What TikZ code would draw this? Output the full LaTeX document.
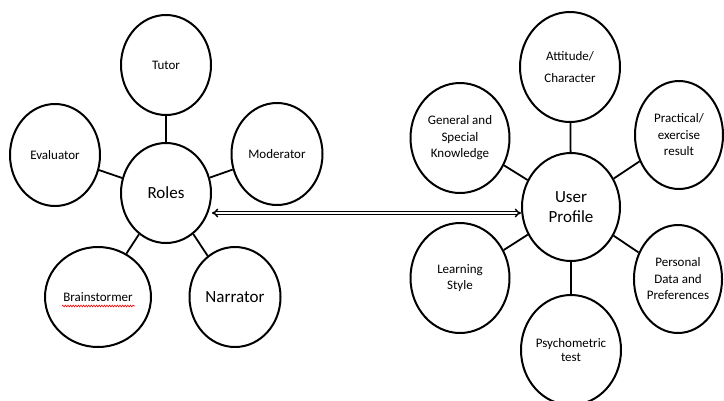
\documentclass[tikz,border=0pt]{standalone}
\usepackage{fontspec}
\setmainfont{Carlito}
\usetikzlibrary{shapes.geometric,arrows.meta,decorations.pathmorphing}
\tikzset{
  basic/.style = {draw, ellipse, line width=2pt, inner sep=0pt, align=center},
  hub/.style   = {basic, minimum width=90pt, minimum height=100pt,
                  font=\fontsize{17}{20}\selectfont},
  leaf/.style  = {basic, minimum width=90pt, minimum height=100pt,
                  font=\fontsize{13}{16.5}\selectfont},
  big leaf/.style = {leaf, minimum width=99pt, minimum height=110pt},
  spoke/.style = {line width=1.8pt},
  link/.style  = {line width=1.5pt, double, double distance=1.3pt,
                  {Implies}-{Implies}},
  spell/.style = {red, line width=0.6pt, decorate,
                  decoration={snake, amplitude=0.9pt, segment length=2.6pt}}
}

\begin{document}
\begin{tikzpicture}[x=1pt, y=-1pt]
\useasboundingbox (0,0) rectangle (724,400);

% left group
\node[hub] (roles) at (166,193) {Roles};

\begin{scope}
\node [leaf, above of = roles, node distance=128pt] (tutor) {Tutor};
\node [leaf, left of = roles, node distance=111pt, yshift=38pt,
       minimum height=102pt] (eval) {Evaluator};
\node [leaf, right of = roles, node distance=111pt, yshift=39pt,
       minimum width=91pt, minimum height=102pt] (moder) {Moderator};
\node [leaf, left of = roles, node distance=68pt, yshift=-104pt,
       minimum width=106pt] (brain) {Brainstormer};
\node [leaf, right of = roles, node distance=69pt, yshift=-104pt,
       minimum width=91pt, font=\fontsize{17}{20}\selectfont] (narr) {Narrator};
\end{scope}

\draw[spell] ([xshift=-36pt,yshift=-9pt]brain.center)
  -- ([xshift=37pt,yshift=-9pt]brain.center);

% right group
\node[hub, minimum width=98pt, minimum height=108pt] (profile) at (571,207)
  {User\\Profile};

\begin{scope}[every node/.style={big leaf}]
\node [above of = profile, node distance=140pt, xshift=-1pt,
       minimum width=100pt] (attit) {Attitude/\\[6pt]Character};
\node [left of = profile, node distance=111pt, yshift=69pt] (general)
  {General and\\Special\\Knowledge};
\node [right of = profile, node distance=108pt, yshift=72pt,
       minimum width=88pt, minimum height=108pt] (practic)
  {Practical/\\exercise\\result};
\node [left of = profile, node distance=111pt, yshift=-71pt] (learn)
  {Learning\\Style};
\node [right of = profile, node distance=107pt, yshift=-72pt,
       minimum width=88pt, minimum height=108pt] (personal)
  {Personal\\Data and\\Preferences};
\node [below of = profile, node distance=143pt, minimum width=100pt,
       font=\fontsize{13}{14}\selectfont] (psycho) {Psychometric\\test};
\end{scope}

\foreach \value in {tutor,eval,moder,brain,narr}
  \draw[spoke] (roles) -- (\value);

\foreach \value in {attit,general,practic,learn,personal,psycho}
  \draw[spoke] (profile) -- (\value);

% link between the two groups
\draw[link] ([yshift=-20pt]roles.east) -- ([yshift=-20pt]roles.east -| profile.west);
\end{tikzpicture}
\end{document}
